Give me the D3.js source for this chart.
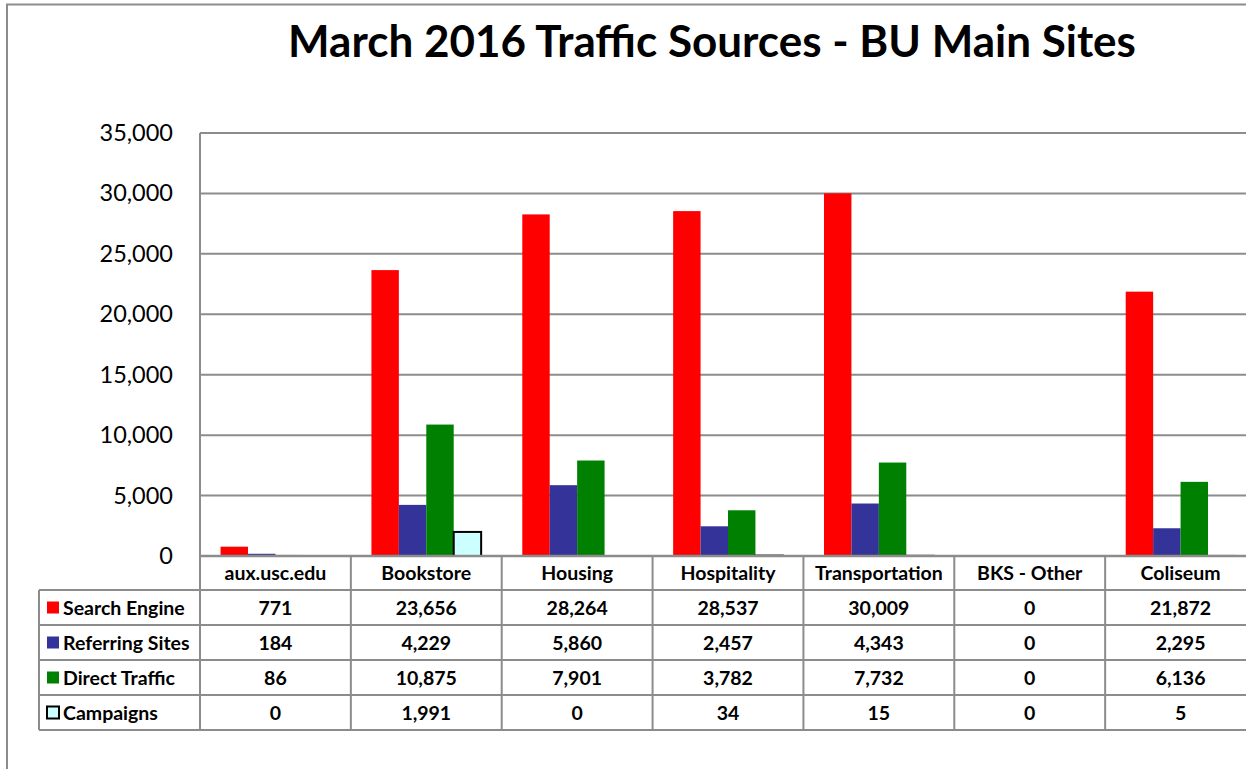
<!DOCTYPE html>
<html><head><meta charset="utf-8">
<script src="https://cdn.jsdelivr.net/npm/d3@7"></script>
<style>body{margin:0;background:#fff;overflow:hidden}svg{display:block}</style>
</head><body>
<svg id="c" width="1246" height="769"></svg>
<script>
const categories = ["aux.usc.edu","Bookstore","Housing","Hospitality","Transportation","BKS - Other","Coliseum"];
const seriesNames = ["Search Engine","Referring Sites","Direct Traffic","Campaigns"];
const searchEngine = [771,23656,28264,28537,30009,0,21872];
const referringSites = [184,4229,5860,2457,4343,0,2295];
const directTraffic = [86,10875,7901,3782,7732,0,6136];
const campaigns = [0,1991,0,34,15,0,5];
const yTicks = [0,5000,10000,15000,20000,25000,30000,35000];
const colors = ["#FF0000","#333399","#008000","#CCFFFF"];
const strokes = ["none","none","none","#000"];
const seriesValues = [searchEngine, referringSites, directTraffic, campaigns];

(function(){
const FONT = "Lato, 'Open Sans', sans-serif";
const svg = d3.select("#c");
const grid = "#8c8c8c";

svg.append("rect").attr("x",7).attr("y",4.5).attr("width",1300).attr("height",900)
  .attr("fill","#fff").attr("stroke",grid).attr("stroke-width",2);

svg.append("text").attr("x",712).attr("y",57).attr("text-anchor","middle")
  .attr("font-family",FONT).attr("font-weight","bold").attr("font-size",44)
  .text("March 2016 Traffic Sources - BU Main Sites");

const pLeft = 200, pTop = 133, pBottom = 556, pRight = 1256;
const x0 = d3.scaleBand().domain(categories).range([pLeft,pRight]).paddingInner(0).paddingOuter(0);
const x1 = d3.scaleBand().domain(seriesNames).range([0,x0.bandwidth()]).paddingInner(0).paddingOuter(0.75);
const y = d3.scaleLinear().domain([0,35000]).range([pBottom,pTop]);

svg.append("g").selectAll("line").data(yTicks).join("line")
  .attr("x1",pLeft).attr("x2",pRight).attr("y1",d=>y(d)).attr("y2",d=>y(d))
  .attr("stroke",grid).attr("stroke-width",2);
svg.append("line").attr("x1",pLeft).attr("x2",pLeft).attr("y1",pTop).attr("y2",pBottom)
  .attr("stroke",grid).attr("stroke-width",2);

const yAxis = svg.append("g").attr("transform",`translate(${pLeft},0)`)
  .call(d3.axisLeft(y).tickValues(yTicks).tickFormat(d3.format(",")).tickSize(0).tickPadding(27));
yAxis.select(".domain").remove();
yAxis.selectAll("text").attr("font-family",FONT).attr("font-size",23.5).attr("fill","#000");

seriesNames.forEach((s,si)=>{
  svg.append("g").selectAll("rect")
    .data(categories.map((c,i)=>({c,v:seriesValues[si][i]})).filter(d=>d.v>0))
    .join("rect")
    .attr("x",d=>x0(d.c)+x1(s))
    .attr("y",d=>y(d.v))
    .attr("width",x1.bandwidth())
    .attr("height",d=>Math.max(0,pBottom-y(d.v)))
    .attr("fill",colors[si])
    .attr("stroke",strokes[si])
    .attr("stroke-width",si===3?2:0);
});

const tableLeft = 39;
const rowY = [556,590,625,660,695,730];
const FS = 19.5;
const tg = svg.append("g");
tg.append("line").attr("x1",pLeft).attr("x2",pRight).attr("y1",pBottom).attr("y2",pBottom).attr("stroke",grid).attr("stroke-width",2.5);
rowY.slice(1).forEach(ry=>{
  tg.append("line").attr("x1",tableLeft).attr("x2",pRight).attr("y1",ry).attr("y2",ry).attr("stroke",grid).attr("stroke-width",2);
});
tg.append("line").attr("x1",tableLeft).attr("x2",tableLeft).attr("y1",590).attr("y2",730).attr("stroke",grid).attr("stroke-width",2);
categories.forEach(c=>{
  tg.append("line").attr("x1",x0(c)).attr("x2",x0(c)).attr("y1",pBottom).attr("y2",730).attr("stroke",grid).attr("stroke-width",2);
});
tg.selectAll("text.h").data(categories).join("text").attr("class","h")
  .attr("x",d=>x0(d)+x0.bandwidth()/2).attr("y",(rowY[0]+rowY[1])/2+7)
  .attr("text-anchor","middle").attr("font-family",FONT).attr("font-weight","bold").attr("font-size",FS)
  .text(d=>d);
seriesNames.forEach((s,si)=>{
  const cy = (rowY[si+1]+rowY[si+2])/2;
  tg.append("rect").attr("x",47).attr("y",cy-6).attr("width",12).attr("height",12)
    .attr("fill",colors[si]).attr("stroke",si===3?"#000":"none").attr("stroke-width",si===3?2:0);
  tg.append("text").attr("x",63).attr("y",cy+7).attr("font-family",FONT).attr("font-weight","bold")
    .attr("font-size",FS).text(s);
  tg.selectAll(null).data(categories).join("text")
    .attr("x",d=>x0(d)+x0.bandwidth()/2).attr("y",cy+7).attr("text-anchor","middle")
    .attr("font-family",FONT).attr("font-weight","bold").attr("font-size",FS)
    .text((d,i)=>d3.format(",")(seriesValues[si][i]));
});
})();
</script>
</body></html>
